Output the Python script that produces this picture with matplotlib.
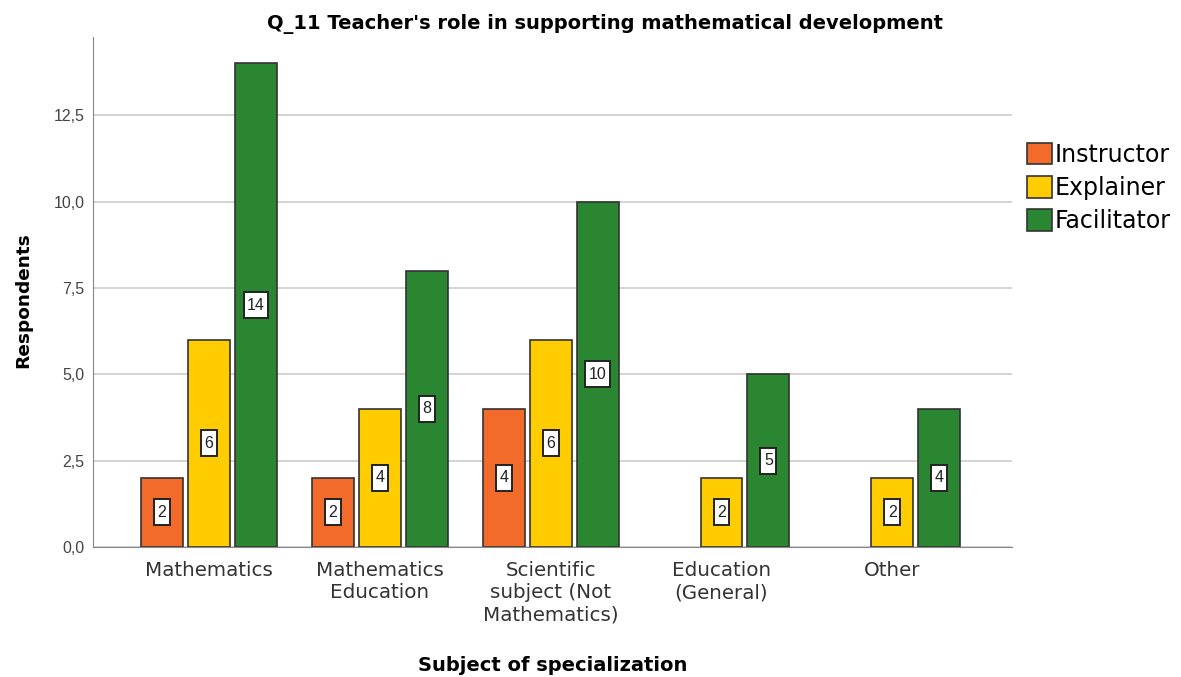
import numpy as np
import matplotlib
matplotlib.use('Agg')
import matplotlib.pyplot as plt
from matplotlib.path import Path
from matplotlib.ticker import FuncFormatter

plt.rcParams['font.family'] = ['DejaVu Sans']

categories = ['Mathematics', 'Mathematics\nEducation', 'Scientific\nsubject (Not\nMathematics)',
              'Education\n(General)', 'Other']
roles = ['Instructor', 'Explainer', 'Facilitator']
instructor = [2, 2, 4, 0, 0]
explainer = [6, 4, 6, 2, 2]
facilitator = [14, 8, 10, 5, 4]
colors = ['#F26B2B', '#FFCC00', '#2A8630']


# tall narrow label box like the SPSS value labels
def tall_box(x0, y0, width, height, mutation_size):
    cx = x0 + width / 2
    cy = y0 + height / 2
    w = width + 7
    h = 26
    l, r, b, t = cx - w / 2, cx + w / 2, cy - h / 2, cy + h / 2
    return Path([(l, b), (r, b), (r, t), (l, t), (l, b)], closed=True)


fig = plt.figure(figsize=(11.81, 6.77), dpi=100)
ax = fig.add_axes([0.0787, 0.192, 0.778, 0.753])

x = np.arange(len(categories))
width = 0.245
offset = 0.275
for i, (vals, col, name) in enumerate(zip([instructor, explainer, facilitator], colors, roles)):
    pos = x + (i - 1) * offset
    keep = [j for j, v in enumerate(vals) if v > 0]
    ax.bar([pos[j] for j in keep], [vals[j] for j in keep], width, color=col,
           edgecolor='#333333', linewidth=1.2, label=name, zorder=3)
    for j in keep:
        ax.text(pos[j], vals[j] / 2, str(vals[j]), ha='center', va='center', fontsize=11.5,
                family='Liberation Sans', color='#222222', zorder=4,
                bbox=dict(boxstyle=tall_box, fc='white', ec='#222222', lw=1.4))

ax.set_xlim(-0.68, 4.7)
ax.set_ylim(0, 14.76)
ax.set_yticks([0, 2.5, 5, 7.5, 10, 12.5])
ax.yaxis.set_major_formatter(FuncFormatter(lambda v, p: f'{v:.1f}'.replace('.', ',')))
ax.grid(axis='y', color='#cccccc', linewidth=1.2, zorder=0)
ax.set_xticks(x)
ax.set_xticklabels(categories, fontsize=14.3, color='#333333', linespacing=1.22)
ax.tick_params(axis='both', length=0)
ax.tick_params(axis='x', pad=10)
ax.tick_params(axis='y', pad=6)
for lab in ax.get_yticklabels():
    lab.set_family('Liberation Sans')
    lab.set_fontsize(11.5)
    lab.set_color('#444444')
for s in ['top', 'right']:
    ax.spines[s].set_visible(False)
ax.spines['left'].set_color('#888888')
ax.spines['bottom'].set_color('#888888')
ax.spines['bottom'].set_zorder(5)

ax.set_title("Q_11 Teacher's role in supporting mathematical development",
             fontsize=14, fontweight='bold', pad=6)
ax.title.set_x(0.557)
ax.set_xlabel('Subject of specialization', fontsize=14, fontweight='bold', labelpad=23)
ax.set_ylabel('Respondents', fontsize=13.3, fontweight='bold')
ax.yaxis.set_label_coords(-0.066, 0.484)

ax.legend(loc='upper left', bbox_to_anchor=(1.006, 0.812), frameon=False, fontsize=17,
          handlelength=1.05, handleheight=1.05, handletextpad=0.12, labelspacing=0.4,
          borderaxespad=0)

fig.savefig('out.png', dpi=100)
